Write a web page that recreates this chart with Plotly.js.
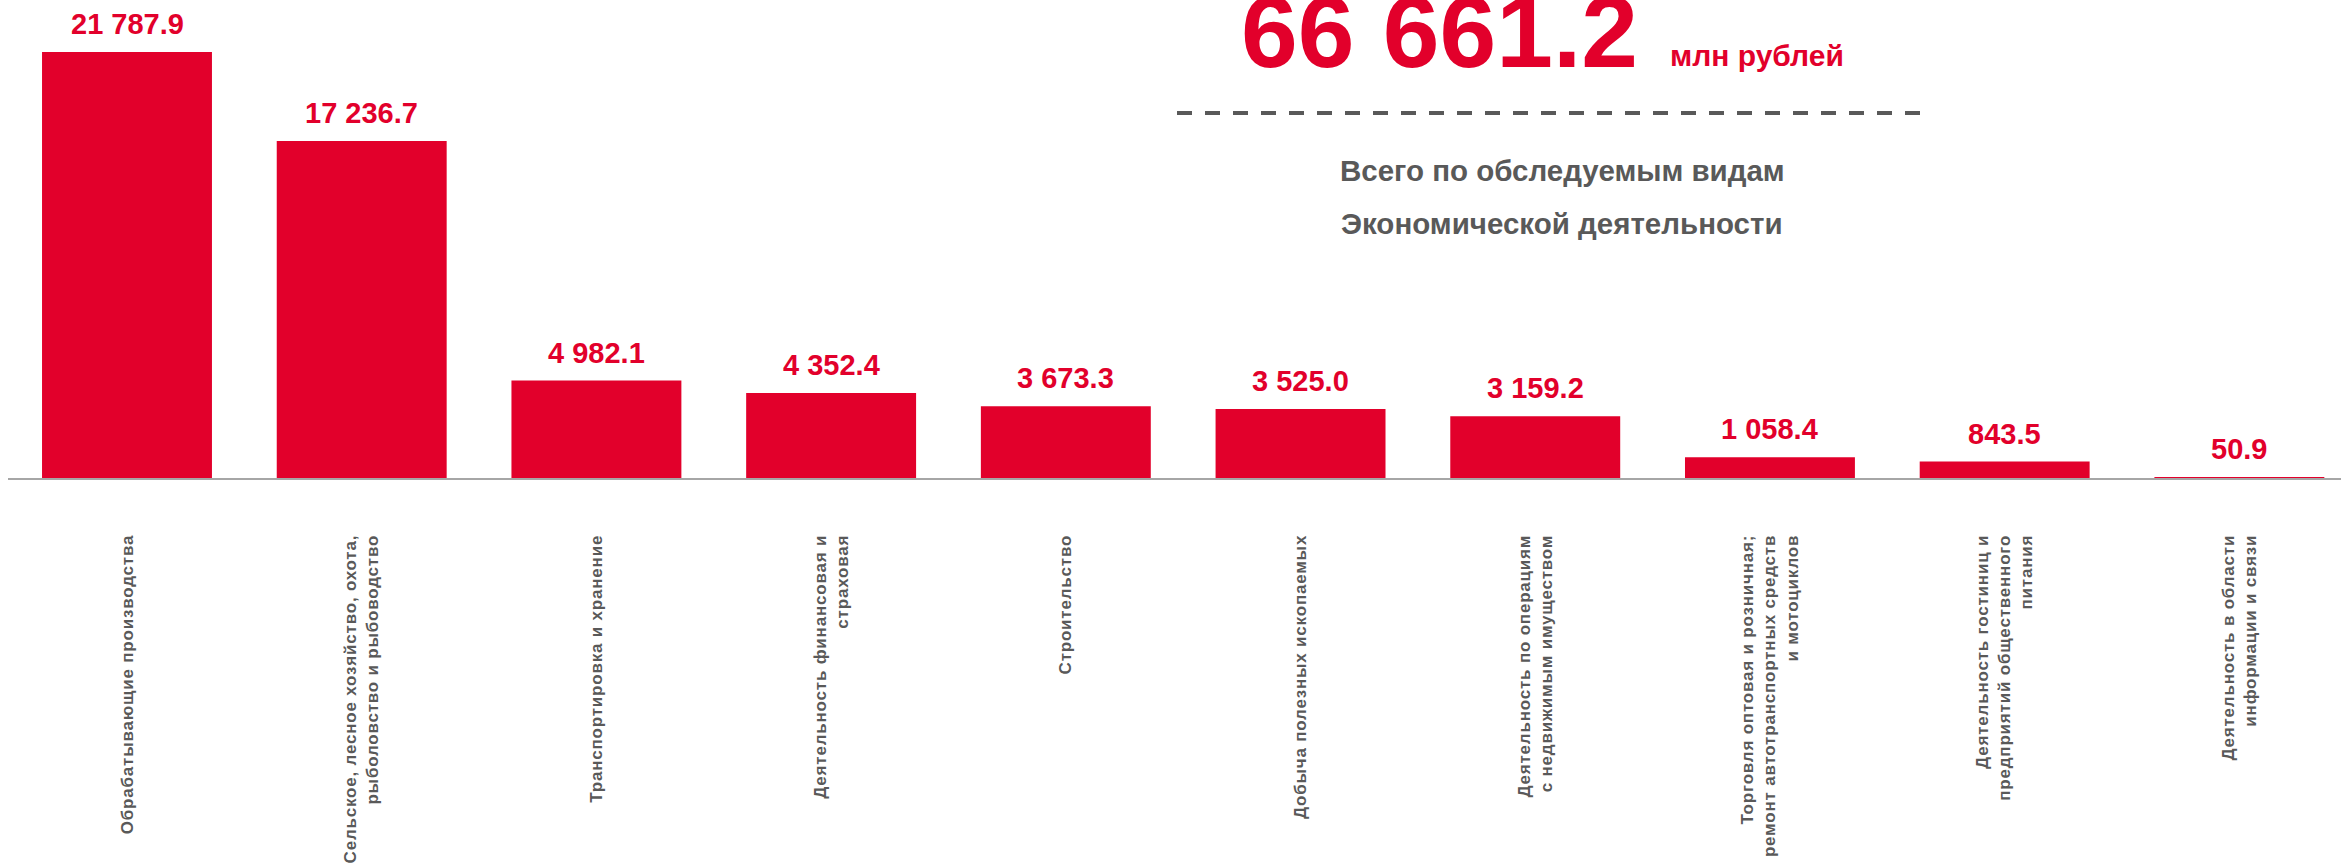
<!DOCTYPE html>
<html>
<head>
<meta charset="utf-8">
<script src="https://cdn.plot.ly/plotly-3.0.1.min.js"></script>
<style>
  html, body { margin: 0; padding: 0; background: #fff; }
  #plot { width: 2341px; height: 865px; }
</style>
</head>
<body>
<div id="plot"></div>
<script>
// виды экономической деятельности
const categories = [
    'Обрабатывающие производства',
    'Сельское, лесное хозяйство, охота,<br>рыболовство и рыбоводство',
    'Транспортировка и хранение',
    'Деятельность финансовая и<br>страховая',
    'Строительство',
    'Добыча полезных ископаемых',
    'Деятельность по операциям<br>с недвижимым имуществом',
    'Торговля оптовая и розничная;<br>ремонт автотранспортных средств<br>и мотоциклов',
    'Деятельность гостиниц и<br>предприятий общественного<br>питания',
    'Деятельность в области<br>информации и связи'
];
const values = [21787.9, 17236.7, 4982.1, 4352.4, 3673.3, 3525.0, 3159.2, 1058.4, 843.5, 50.9];

const totalValue = '66 661.2';
const totalUnit = 'млн рублей';
const totalCaption = ['Всего по обследуемым видам', 'Экономической деятельности'];

const red = '#E2002B';
const grey = '#595959';
const font = 'Liberation Sans, Arial, sans-serif';

function fmt(v) {
    let s = v.toFixed(1);
    let parts = s.split('.');
    parts[0] = parts[0].replace(/\B(?=(\d{3})+(?!\d))/g, ' ');
    return parts.join('.');
}

// tick labels get a bit of tracking like the original slide
function spaced(label) {
    return label.split('<br>').map(l => '<span style="letter-spacing:0.8px">' + l + '</span>').join('<br>');
}

const xs = categories.map((c, i) => i);

let trace = {
    x: xs,
    y: values,
    type: 'bar',
    marker: { color: red },
    hoverinfo: 'none'
};

// plot area: x 8..2341, y 0..478 (px)
const W = 2341, L = 8, T = 0, B = 387;
const pw = W - L, ph = 865 - T - B;
function px(x) { return (x - L) / pw; }
function py(y) { return (ph - (y - T)) / ph; }

let annotations = values.map((v, i) => ({
    x: i, y: v, xref: 'x', yref: 'y',
    text: fmt(v),
    showarrow: false,
    yanchor: 'bottom',
    yshift: 10,
    font: { family: font, size: 29, color: red, weight: 'bold' }
}));

annotations.push({
    xref: 'paper', yref: 'paper', x: px(1239), y: py(32),
    xanchor: 'left', yanchor: 'middle', showarrow: false,
    text: '<b>' + totalValue + '</b>',
    font: { family: font, size: 102, color: red }
});
annotations.push({
    xref: 'paper', yref: 'paper', x: px(1668), y: py(55),
    xanchor: 'left', yanchor: 'middle', showarrow: false,
    text: '<b>' + totalUnit + '</b>',
    font: { family: font, size: 30, color: red }
});
totalCaption.forEach((t, k) => {
    annotations.push({
        xref: 'paper', yref: 'paper', x: px(1562), y: py(171 + k * 52),
        xanchor: 'center', yanchor: 'middle', showarrow: false,
        text: '<b>' + t + '</b>',
        font: { family: font, size: 29.5, color: grey }
    });
});

let layout = {
    width: 2341,
    height: 865,
    margin: { l: L, r: 0, t: T, b: B },
    paper_bgcolor: '#fff',
    plot_bgcolor: '#fff',
    showlegend: false,
    bargap: 0.276,
    font: { family: font },
    xaxis: {
        range: [-0.507, 9.433],
        tickmode: 'array',
        tickvals: xs,
        ticktext: categories.map(spaced),
        tickangle: -90,
        ticks: '',
        ticklabelstandoff: 48,
        tickfont: { family: font, size: 17, color: grey, weight: 'bold' },
        showline: true,
        linecolor: '#A6A6A6',
        linewidth: 2,
        showgrid: false,
        zeroline: false,
        fixedrange: true
    },
    yaxis: {
        range: [0, 24447],
        visible: false,
        showgrid: false,
        zeroline: false,
        fixedrange: true
    },
    shapes: [{
        type: 'line', xref: 'paper', yref: 'paper',
        x0: px(1177), x1: px(1922), y0: py(113), y1: py(113),
        line: { color: grey, width: 4, dash: '15px,13px' }
    }],
    annotations: annotations
};

Plotly.newPlot('plot', [trace], layout, { displayModeBar: false, staticPlot: true });
</script>
</body>
</html>
